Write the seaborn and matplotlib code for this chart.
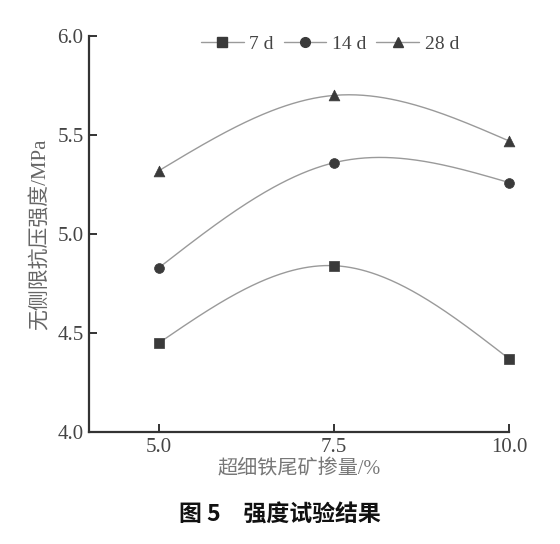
import numpy as np
import pandas as pd
import matplotlib
matplotlib.use("Agg")
import matplotlib.pyplot as plt
from matplotlib.lines import Line2D
import seaborn as sns

# ---- data ----
dosage = [5.0, 7.5, 10.0]
strength_7d = [4.45, 4.84, 4.37]
strength_14d = [4.83, 5.36, 5.26]
strength_28d = [5.32, 5.70, 5.47]
series_names = ["7 d", "14 d", "28 d"]
markers = ["s", "o", "^"]
x_ticks = [5.0, 7.5, 10.0]
y_ticks = [4.0, 4.5, 5.0, 5.5, 6.0]

sns.set_style("ticks")
plt.rcParams["font.family"] = ["Liberation Serif", "Noto Sans CJK SC", "DejaVu Sans"]
plt.rcParams["xtick.direction"] = "in"
plt.rcParams["ytick.direction"] = "in"


def natural_spline(xs, ys, n=200):
    xs = np.asarray(xs, float)
    ys = np.asarray(ys, float)
    k = len(xs)
    h = np.diff(xs)
    A = np.zeros((k, k))
    b = np.zeros(k)
    A[0, 0] = 1
    A[-1, -1] = 1
    for i in range(1, k - 1):
        A[i, i - 1] = h[i - 1]
        A[i, i] = 2 * (h[i - 1] + h[i])
        A[i, i + 1] = h[i]
        b[i] = 6 * ((ys[i + 1] - ys[i]) / h[i] - (ys[i] - ys[i - 1]) / h[i - 1])
    M = np.linalg.solve(A, b)
    xx = np.linspace(xs[0], xs[-1], n)
    yy = np.empty_like(xx)
    for j, x in enumerate(xx):
        i = min(np.searchsorted(xs, x, side="right") - 1, k - 2)
        hi = h[i]
        a = xs[i + 1] - x
        c = x - xs[i]
        yy[j] = (M[i] * a**3 / (6 * hi) + M[i + 1] * c**3 / (6 * hi)
                 + (ys[i] / hi - M[i] * hi / 6) * a
                 + (ys[i + 1] / hi - M[i + 1] * hi / 6) * c)
    return xx, yy


fig = plt.figure(figsize=(5.6, 5.44), dpi=100)
ax = fig.add_axes([89 / 560, 1 - 432 / 544, 420 / 560, 396 / 544])

line_color = "#9a9a9a"
mark_color = "#3a3a3a"
handles = []
for name, vals, m in zip(series_names, [strength_7d, strength_14d, strength_28d], markers):
    xx, yy = natural_spline(dosage, vals)
    sns.lineplot(x=xx, y=yy, ax=ax, color=line_color, linewidth=1.0, sort=False)
    sns.scatterplot(x=dosage, y=vals, ax=ax, marker=m, color=mark_color,
                    s=50 if m != "^" else 60, edgecolor=mark_color, linewidth=0.5,
                    zorder=3, clip_on=False)
    handles.append(Line2D([0], [0], color=line_color, linewidth=1.0, marker=m,
                          markersize=7, markerfacecolor=mark_color, markeredgecolor=mark_color))

ax.set_xlim(4.0, 10.0)
ax.set_ylim(4.0, 6.0)
ax.set_xticks(x_ticks)
ax.set_xticklabels([f"{v:.1f}" for v in x_ticks])
ax.set_yticks(y_ticks)
ax.set_yticklabels([f"{v:.1f}" for v in y_ticks])
ax.tick_params(axis="both", labelsize=15, length=6, width=1.4, colors="#333333",
               labelcolor="#444444", pad=4)
for s in ["top", "right"]:
    ax.spines[s].set_visible(False)
for s in ["left", "bottom"]:
    ax.spines[s].set_linewidth(1.6)
    ax.spines[s].set_color("#333333")

ax.set_xlabel("超细铁尾矿掺量/%", fontsize=14.5, color="#777777", labelpad=3)
ax.set_ylabel("无侧限抗压强度/MPa", fontsize=15, color="#666666", labelpad=5)

leg = ax.legend(handles, series_names, loc="center", bbox_to_anchor=(0.574, 0.98),
                ncol=3, frameon=False, fontsize=14, handlelength=2.2,
                handletextpad=0.3, columnspacing=0.5, borderaxespad=0)
for t in leg.get_texts():
    t.set_color("#444444")

fig.text(0.5, 1 - 515 / 544, "图 5\u3000强度试验结果", ha="center", va="center",
         fontsize=16.5, fontweight="bold", family=["Noto Sans CJK SC", "DejaVu Sans"],
         color="#111111")

fig.savefig("out.png", dpi=100, facecolor="white")
